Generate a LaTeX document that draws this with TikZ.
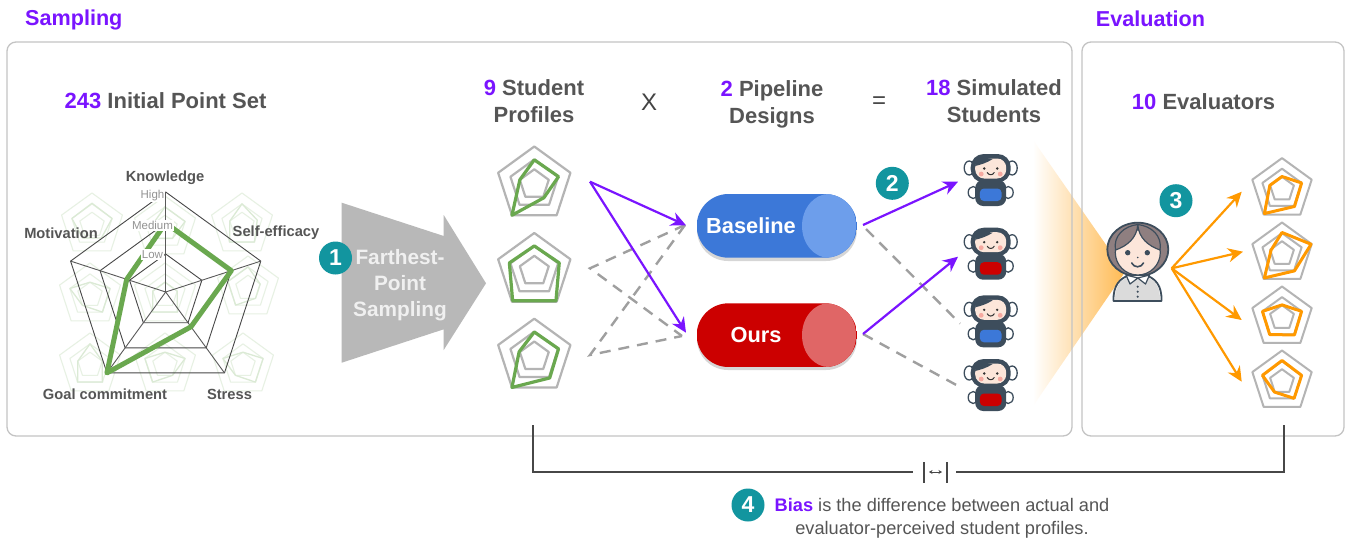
\documentclass[tikz,border=0pt]{standalone}
\usepackage{fontspec}
\setmainfont{Liberation Sans}
\usetikzlibrary{arrows.meta,calc}
\definecolor{numpurple}{HTML}{7A14FF}
\definecolor{txtgray}{HTML}{555555}
\definecolor{panelline}{HTML}{C4C4C4}
\definecolor{tealc}{HTML}{12959F}
\definecolor{gridgray}{HTML}{B4B4B4}
\definecolor{radgreen}{HTML}{6AA84F}
\definecolor{evalorange}{HTML}{FF9900}
\definecolor{bluepill}{HTML}{3C78D8}
\definecolor{bluelight}{HTML}{6D9EEB}
\definecolor{redpill}{HTML}{CC0000}
\definecolor{redlight}{HTML}{E06666}
\definecolor{robotdark}{HTML}{3D4D5C}
\definecolor{skin}{HTML}{FCE6DA}
\definecolor{cheek}{HTML}{F6A9A0}
\definecolor{hairc}{HTML}{8F7F80}
\newcommand\fsz[1]{\fontsize{#1}{#1}\selectfont}
\newcommand\pn[1]{\textcolor{numpurple}{#1}}
\tikzset{
  panel/.style={draw=panelline,line width=1.3pt,rounded corners=9pt},
  head/.style={inner sep=0pt,text=numpurple,font=\fsz{21.6}\bfseries},
  title/.style={inner sep=0pt,text=txtgray,align=center,font=\fsz{22}\bfseries\setlength{\baselineskip}{27pt}},
  axislab/.style={inner sep=0pt,text=txtgray,font=\fsz{14.7}\bfseries},
  levellab/.style={inner sep=1pt,fill=white,text=gray!85,font=\fsz{11.5}},
  numdot/.style={circle,fill=tealc,minimum size=33pt,inner sep=0pt,text=white,font=\fsz{23}\bfseries},
  pilltxt/.style={inner sep=0pt,text=white,font=\fsz{21.8}\bfseries},
  pur/.style={draw=numpurple,line width=2.2pt,-{Stealth[length=15pt,width=14pt]}},
  org/.style={draw=evalorange,line width=2.2pt,-{Stealth[length=15pt,width=14pt]}},
  dsh/.style={draw=gray!75,line width=2.4pt,dash pattern=on 11pt off 8pt},
  gridline/.style={},dataline/.style={},
  smallgreen/.style={gridline/.style={draw=gridgray,line width=2.2pt},dataline/.style={draw=radgreen,line width=3.2pt}},
  smallorange/.style={gridline/.style={draw=gridgray,line width=2pt},dataline/.style={draw=evalorange,line width=3pt}},
  faint/.style={gridline/.style={draw=radgreen!16,line width=1.1pt},dataline/.style={draw=radgreen!24,line width=1.3pt}},
}
% optional style, cx, cy, R, five radial fractions
\newcommand\radar[9][]{%
\begin{scope}[shift={(#2,#3)},line join=round,#1]
\foreach \f in {1,0.66,0.4}{
  \pgfmathsetmacro\rr{\f*#4}
  \draw[gridline] (90:\rr pt)--(18:\rr pt)--(-54:\rr pt)--(-126:\rr pt)--(162:\rr pt)--cycle;}
\pgfmathsetmacro\ra{#5*#4}\pgfmathsetmacro\rb{#6*#4}\pgfmathsetmacro\rc{#7*#4}\pgfmathsetmacro\rd{#8*#4}\pgfmathsetmacro\re{#9*#4}
\draw[dataline] (90:\ra pt)--(18:\rb pt)--(-54:\rc pt)--(-126:\rd pt)--(162:\re pt)--cycle;
\end{scope}}
% cx, top y, belly colour
\newcommand\robot[3]{%
\begin{scope}[shift={(#1,#2)},line join=round]
\draw[robotdark,line width=1.3pt,fill=white] (-21.5,14) ellipse [x radius=5pt,y radius=7pt];
\draw[robotdark,line width=1.3pt,fill=white] (21.5,14) ellipse [x radius=5pt,y radius=7pt];
\draw[robotdark,line width=1.3pt,fill=white] (-17.5,38.5) ellipse [x radius=5pt,y radius=6pt];
\draw[robotdark,line width=1.3pt,fill=white] (17.5,38.5) ellipse [x radius=5pt,y radius=6pt];
\fill[robotdark,rounded corners=8pt] (-15.5,26) rectangle (15.5,52);
\fill[robotdark,rounded corners=13pt] (-20,0) rectangle (20,28.5);
\fill[skin,rounded corners=9pt] (-15.5,4.5) rectangle (15.5,24.5);
\fill[robotdark] (-15.5,12) .. controls (-11,11) and (-4,9) .. (2,5) -- (-7,3.5) .. controls (-13,4) and (-16,7) .. cycle;
\fill[cheek] (-9.5,20) circle (2.4pt) (9.5,20) circle (2.4pt);
\fill[black!80] (-6.5,14.5) circle (1.3pt) (6.5,14.5) circle (1.3pt);
\draw[black!80,line width=1pt,line cap=round] (-3.5,18.5) .. controls (-2,21.5) and (2,21.5) .. (3.5,18.5);
\fill[#3,rounded corners=4pt] (-10.8,34.5) rectangle (10.8,47);
\end{scope}}
\begin{document}
\begin{tikzpicture}[x=1pt,y=-1pt]
\useasboundingbox (0,0) rectangle (1346,539);
\fill[white] (0,0) rectangle (1346,539);
% orange cone
\shade[left color=white,right color=evalorange!68] (1033,140) -- (1125,272) -- (1033,406) -- cycle;
% panels
\node[panel,minimum width=1065pt,minimum height=394pt,inner sep=0pt] (sampbox) at (539.5,239) {};
\node[panel,minimum width=262pt,minimum height=394pt,inner sep=0pt] (evalbox) at (1213,239) {};
\node[head,anchor=west] (samph) at (25,20) {Sampling};
\node[head] (evalh) at (1150.5,18.5) {Evaluation};
% titles
\node[title] (t243) at (165.5,101) {\pn{243} Initial Point Set};
\node[title] (t9) at (534,101.5) {\pn{9} Student\\Profiles};
\node[inner sep=0pt,text=txtgray!80!black,font=\fsz{24}] (tx) at (649,102) {X};
\node[title] (t2) at (772,104.5) {\pn{2} Pipeline\\Designs};
\node[inner sep=0pt,text=txtgray!80!black,font=\fsz{24}] (teq) at (879,103) {=};
\node[title] (t18) at (994,101.5) {\pn{18} Simulated\\Students};
\node[title] (t10) at (1203.5,101.5) {\pn{10} Evaluators};
% faint background radars
\radar[faint]{92}{225}{32}{.68}{.66}{.5}{.5}{.66}
\radar[faint]{242}{225}{32}{.66}{.5}{.66}{.66}{.4}
\radar[faint]{90}{295}{32}{.4}{.66}{.66}{.4}{.66}
\radar[faint]{248}{288}{32}{.66}{.4}{.4}{.66}{.66}
\radar[faint]{90}{365}{32}{.66}{.4}{.66}{.66}{.4}
\radar[faint]{165}{365}{32}{.4}{.66}{.4}{.66}{.66}
\radar[faint]{243}{365}{32}{.4}{.66}{.66}{.4}{.66}
\radar[faint]{165}{228}{32}{.66}{.66}{.4}{.4}{.4}
\radar[faint]{165}{295}{32}{.4}{.4}{.66}{.66}{.4}
% large radar
\begin{scope}[shift={(165.7,292)},line join=round]
\foreach \rr in {100,69,38}{
  \draw[black!72,line width=.9pt] (90:\rr pt)--(18:\rr pt)--(-54:\rr pt)--(-126:\rr pt)--(162:\rr pt)--cycle;}
\foreach \a in {90,18,-54,-126,162}{\draw[black!65,line width=.9pt] (0,0)--(\a:100pt);}
\draw[radgreen,line width=5pt] (90:69pt)--(18:69pt)--(-54:43pt)--(-126:100pt)--(162:41pt)--cycle;
\end{scope}
\node[levellab] (lhigh) at (152.5,195.5) {High};
\node[levellab] (lmed) at (152.5,225.5) {Medium};
\node[levellab] (llow) at (152.5,254.5) {Low};
\node[axislab] (aknow) at (165,177.5) {Knowledge};
\node[axislab] (amot) at (61,233) {Motivation};
\node[axislab] (aself) at (276,233) {Self-efficacy};
\node[axislab] (agoal) at (105,394) {Goal commitment};
\node[axislab] (astress) at (229.5,394) {Stress};
% sampling arrow
\fill[black!28] (341.7,202.7)--(443.7,236)--(443.7,215)--(486,283.3)--(443.7,350)--(443.7,329.3)--(341.7,362.7)--cycle;
\node[inner sep=0pt,align=center,text=white!94!black,font=\fsz{20.8}\bfseries\setlength{\baselineskip}{26pt}] (fps) at (400,285) {Farthest-\\Point\\Sampling};
\node[numdot] (n1) at (335.5,258) {1};
% student profiles
\radar[smallgreen]{534.3}{184.5}{38}{.65}{.67}{.43}{1}{.4}
\radar[smallgreen]{534.3}{271}{38}{.66}{.69}{.97}{.97}{.69}
\radar[smallgreen]{534.3}{356.7}{38}{.65}{.67}{.69}{1}{.42}
% pipelines
\fill[black!45,opacity=.35,rounded corners=31pt] (697,198) rectangle (857,261);
\fill[black!45,opacity=.35,rounded corners=31pt] (697,307) rectangle (857,370);
\begin{scope}
\clip[rounded corners=31.8pt] (696.7,194) rectangle (857,257.7);
\fill[bluepill] (696.7,194) rectangle (857,257.7);
\fill[bluelight] (829,225.9) ellipse [x radius=27pt,y radius=32pt];
\end{scope}
\begin{scope}
\clip[rounded corners=31.8pt] (696.7,303.3) rectangle (857,367);
\fill[redpill] (696.7,303.3) rectangle (857,367);
\fill[redlight] (829,335.1) ellipse [x radius=27pt,y radius=32pt];
\end{scope}
\node[pilltxt] (base) at (751,226) {Baseline};
\node[pilltxt] (ours) at (756,335) {Ours};
% robots
\robot{990.7}{154}{bluepill}
\robot{990.7}{227.7}{redpill}
\robot{990.7}{295.3}{bluepill}
\robot{990.7}{359}{redpill}
% connector ends
\coordinate (s1) at (590,181.7);
\coordinate (s2) at (590,268.3);
\coordinate (s3) at (590,355);
\coordinate (bIn) at (686,225.3);
\coordinate (oIn) at (686,332.7);
\coordinate (bInD) at (685,225);
\coordinate (oInD) at (682,336);
\coordinate (bOut) at (863,225);
\coordinate (bOutD) at (866,229);
\coordinate (oOut) at (863,334);
\coordinate (r1) at (958,181.7);
\coordinate (r2) at (958,256.7);
\coordinate (r3) at (960,323.5);
\coordinate (r4) at (960,387);
\draw[dsh] (bInD) -- (s2) -- (oInD);
\draw[dsh] (bInD) -- (s3) -- (oInD);
\draw[pur] (s1) -- (bIn);
\draw[pur] (s1) -- (oIn);
\draw[dsh] (bOutD) -- (r3);
\draw[dsh] (oOut) -- (r4);
\draw[pur] (bOut) -- (r1);
\draw[pur] (oOut) -- (r2);
\node[numdot] (n2) at (892.3,183.3) {2};
% evaluator
\begin{scope}[line join=round]
\draw[draw=robotdark,line width=1.8pt,fill=hairc] (1137.8,249.4) ellipse [x radius=30.5pt,y radius=26.7pt];
\draw[robotdark,line width=1.8pt,fill=white] (1113.5,301) .. controls (1113,285) and (1120,278) .. (1130,275) -- (1145,275) .. controls (1155,278) and (1162,285) .. (1161.5,301) -- cycle;
\fill[black!14] (1115,299.8) .. controls (1115,285) and (1121,279) .. (1130,276.5) -- (1145,276.5) .. controls (1154,279) and (1160,285) .. (1160,299.8) -- cycle;
\draw[robotdark,line width=1.2pt,fill=skin] (1137.8,252.5) circle (22.5pt);
\draw[robotdark,line width=1.2pt,fill=hairc] (1137.8,224.5) .. controls (1137,238) and (1127,246) .. (1115.5,250) .. controls (1113,236) and (1124,226) .. cycle;
\draw[robotdark,line width=1.2pt,fill=hairc] (1137.8,224.5) .. controls (1138.5,238) and (1148.5,246) .. (1160,250) .. controls (1162.5,236) and (1151.5,226) .. cycle;
\draw[robotdark,line width=1.2pt,fill=white] (1137.8,278) -- (1126,275) -- (1130,284) -- cycle;
\draw[robotdark,line width=1.2pt,fill=white] (1137.8,278) -- (1149.5,275) -- (1145.5,284) -- cycle;
\fill[robotdark] (1127.7,252.7) circle (2.7pt) (1147.3,252.7) circle (2.7pt) (1137.7,257.5) circle (.8pt);
\draw[robotdark,line width=1.6pt,line cap=round] (1131.7,263) .. controls (1134,268) and (1141,268) .. (1143.5,263);
\fill[robotdark] (1137.7,286.7) circle (1.2pt) (1137.7,291.7) circle (1.2pt) (1137.7,296.7) circle (1.2pt);
\end{scope}
% evaluator arrows
\coordinate (ev) at (1171.7,268.3);
\coordinate (e1) at (1241.7,191.7);
\coordinate (e2) at (1243,251.7);
\coordinate (e3) at (1241.7,320);
\coordinate (e4) at (1241.7,381.7);
\draw[org] (ev) -- (e1);
\draw[org] (ev) -- (e2);
\draw[org] (ev) -- (e3);
\draw[org] (ev) -- (e4);
\node[numdot] (n3) at (1176,200.7) {3};
\radar[smallorange]{1282}{189.3}{31.2}{.41}{.66}{.68}{.96}{.41}
\radar[smallorange]{1282}{253.7}{31.2}{.68}{.98}{.68}{.96}{.37}
\radar[smallorange]{1282}{317.7}{31.2}{.41}{.66}{.68}{.67}{.66}
\radar[smallorange]{1282}{381.7}{31.2}{.68}{.66}{.66}{.41}{.66}
% bias bracket
\coordinate (bl) at (533,425);
\coordinate (br) at (1284,425);
\coordinate (blc) at (533,472);
\coordinate (brc) at (1284,472);
\coordinate (bg1) at (913,472);
\coordinate (bg2) at (956,472);
\coordinate (bar1a) at (924,462);\coordinate (bar1b) at (924,483);
\coordinate (bar2a) at (947,462);\coordinate (bar2b) at (947,483);
\coordinate (ar1) at (929,472);\coordinate (ar2) at (942,472);
\draw[black!72,line width=2pt] (bl) -- (blc) -- (bg1);
\draw[black!72,line width=2pt] (br) -- (brc) -- (bg2);
\draw[black!72,line width=1.5pt] (bar1a) -- (bar1b);
\draw[black!72,line width=1.5pt] (bar2a) -- (bar2b);
\draw[black!72,line width=.8pt,{Stealth[length=3.5pt,width=4pt]}-{Stealth[length=3.5pt,width=4pt]}] (ar1) -- (ar2);
\node[numdot] (n4) at (748,505) {4};
\node[inner sep=0pt,align=center,text=txtgray,font=\fsz{18.2}\setlength{\baselineskip}{23pt}] (bias) at (942,518.5) {\textbf{\pn{Bias}} is the difference between actual and\\evaluator-perceived student profiles.};
\end{tikzpicture}
\end{document}
